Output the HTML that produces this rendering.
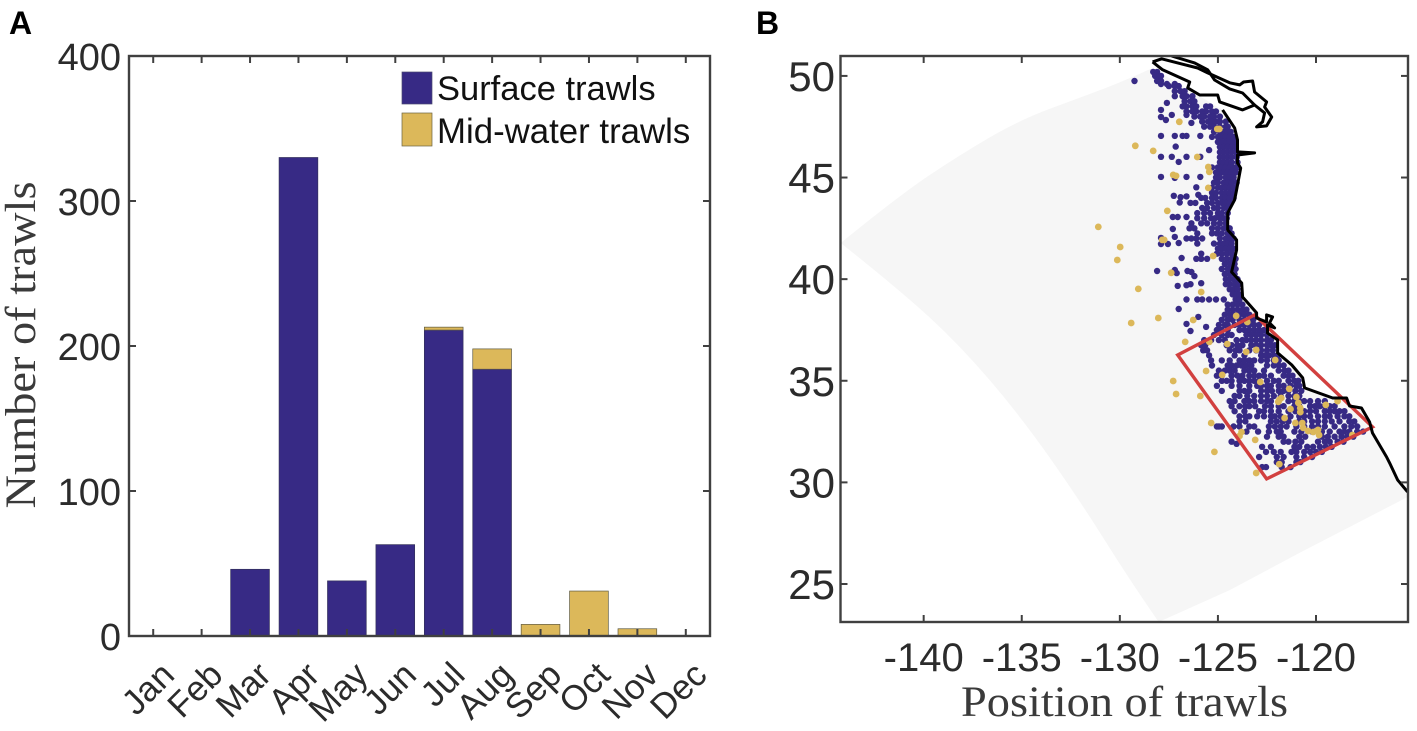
<!DOCTYPE html>
<html lang="en">
<head>
<meta charset="utf-8">
<title>Trawls by month and position</title>
<style>
html,body{margin:0;padding:0;background:#fff;width:1417px;height:731px;overflow:hidden}
svg{display:block}
text{font-family:"Liberation Sans",sans-serif;fill:#2b2b2b}
.serif{font-family:"Liberation Serif",serif;fill:#3a3a3a}
</style>
</head>
<body>
<svg id="fig" xmlns="http://www.w3.org/2000/svg" width="1417" height="731" viewBox="0 0 1417 731">
  <defs><clipPath id="mapClip"><rect x="840.5" y="56" width="567.5" height="566"/></clipPath></defs>
  <text x="9" y="34" font-size="32" font-weight="700" style="fill:#000">A</text>
  <text x="756" y="34" font-size="32" font-weight="700" style="fill:#000">B</text>
  <g id="barsLayer"></g>
  <g id="axisA"></g>
  <text class="serif" transform="translate(35,345) rotate(-90)" text-anchor="middle" font-size="43" textLength="327" lengthAdjust="spacingAndGlyphs">Number of trawls</text>
  <g>
    <rect x="402" y="72" width="30" height="32" fill="#372a85" stroke="#4a4a70" stroke-width="0.7"/>
    <text x="437" y="100" font-size="34.5" style="fill:#111">Surface trawls</text>
    <rect x="402" y="113" width="30" height="33" fill="#dcb85a" stroke="#6b6240" stroke-width="0.7"/>
    <text x="437" y="143" font-size="34.8" style="fill:#111">Mid-water trawls</text>
  </g>
  <g id="mapLayer" clip-path="url(#mapClip)"></g>
  <g id="axisB"></g>
  <text class="serif" x="1124.5" y="716" text-anchor="middle" font-size="43" textLength="327" lengthAdjust="spacingAndGlyphs">Position of trawls</text>
</svg>
<script>
/* ---------- Panel A data ---------- */
const months = ["Jan","Feb","Mar","Apr","May","Jun","Jul","Aug","Sep","Oct","Nov","Dec"];
const surfaceCounts = [0,0,46,330,38,63,211,184,0,0,0,0];
const midwaterCounts = [0,0,0,0,0,0,2,14,8,31,5,0];
const countTicks = [0,100,200,300,400];

/* ---------- Panel B data (longitude / latitude) ---------- */
const lonTicks = [-140,-135,-130,-125,-120];
const latTicks = [25,30,35,40,45,50];
const domainNorth = [[-144.23,41.78],[-141.22,44.14],[-138.17,46.11],[-135.11,47.83],[-132.05,48.92],[-130.01,49.66],[-128.33,50.39]];
const domainBottom = [[-115.33,29.28],[-120.84,26.53],[-124.4,24.7],[-128.02,23.13]];
const domainWest = [[-128.02,23.13],[-129.5,25.2],[-132.05,29.13],[-135.11,33.32],[-138.17,36.76],[-141.22,39.47],[-144.23,41.78]];
const coastline = [[-124.76,48.33],[-124.15,47.44],[-124,46.85],[-124,46.26],[-123.13,46.21],[-124,46.11],[-124,45.72],[-123.84,45.47],[-124.05,44.39],[-124.15,43.9],[-124.5,43.26],[-124.5,42.42],[-124.05,41.93],[-124.05,41.44],[-124.3,40.35],[-123.79,39.81],[-123.74,39.12],[-123.03,38.34],[-123.03,38.09],[-122.52,37.89],[-122.52,38.24],[-122.21,38.14],[-122.37,37.84],[-122.11,37.6],[-122.47,37.75],[-122.47,37.35],[-121.96,37.01],[-121.96,36.37],[-121.24,35.78],[-120.68,35.14],[-120.58,34.65],[-119.15,34.15],[-118.44,34.15],[-118.29,33.76],[-117.68,33.66],[-117.27,32.97],[-117.12,32.43],[-116.4,31.25],[-116.25,30.96],[-115.84,30.12],[-115.33,29.53]];
const islandOutline = [[-128.33,50.69],[-127.87,50.84],[-126.85,50.59],[-126.03,50.39],[-125.52,50.15],[-124.4,49.66],[-123.89,49.56],[-123.69,49.7],[-123.23,49.75],[-123.13,49.21],[-122.52,48.72],[-122.62,48.47],[-122.26,47.98],[-122.52,47.54],[-123.03,47.49],[-122.72,47.74],[-122.62,48.18],[-123.13,48.57],[-123.74,48.33],[-124.91,48.72],[-125.01,49.06],[-125.93,49.06],[-126.54,49.41],[-126.44,49.7],[-127.82,50.3],[-128.33,50.69]];
const straitShore = [[-127.36,50.98],[-126.19,50.64],[-125.52,50.3],[-125.17,49.8],[-124.4,49.36],[-123.74,49.16],[-123.13,48.57]];
const studyBox = [[-127.05,36.27],[-123.13,38.24],[-117.12,32.73],[-122.52,30.17]];

/* Surface trawls: [latitude, [longitudes]] */
const surfaceRows = [
[50.2,[-128.3,-128.1]],[50,[-128.2,-128,-127.9]],[49.75,[-129.25,-128.1,-127.9]],[49.6,[-127.9,-127.6,-127.2]],
[49.5,[-127.5,-127.2,-127]],[49.25,[-127.2,-126.9,-126.7]],[49,[-127.2,-126.8,-126.6,-126.3]],[48.75,[-126.7,-126.4,-126.2]],
[48.5,[-126.8,-126.6,-126.3,-126.1,-125.6,-125.4]],[48.25,[-126.6,-126.3,-126.1,-125.8,-125.6,-125.3,-125.1]],
[48,[-126.2,-125.9,-125.7,-125.4,-125.2,-124.9]],[47.75,[-125.8,-125.5,-125.3,-125.1,-124.9,-124.6]],
[47.5,[-125.7,-125.4,-125.2,-124.9,-124.6,-124.5]],[47.25,[-125.2,-124.9,-124.7,-124.5,-124.35]],
[47,[-125.3,-125,-124.8,-124.6,-124.4,-124.2]],[46.75,[-125,-124.8,-124.6,-124.4,-124.2,-124.1]],
[46.5,[-124.9,-124.7,-124.5,-124.3,-124.1]],[46.25,[-124.9,-124.7,-124.5,-124.3,-124.1]],
[46,[-124.9,-124.7,-124.5,-124.3,-124.05]],[45.75,[-124.9,-124.7,-124.5,-124.3,-124]],
[45.5,[-125.3,-125,-124.8,-124.6,-124.4,-124.2,-124]],[45.25,[-125.1,-124.9,-124.7,-124.5,-124.3,-124.1]],
[45,[-125.1,-124.9,-124.6,-124.4,-124.2]],[44.75,[-125.2,-125,-124.7,-124.5,-124.3,-124.05]],
[44.5,[-125.3,-125,-124.8,-124.6,-124.4,-124.2]],[44.25,[-125.3,-125.1,-124.8,-124.6,-124.4,-124.2]],
[44,[-125.85,-125.65,-125.3,-125.1,-124.8,-124.6,-124.4,-124.2]],[43.75,[-126.4,-126.15,-125.55,-125.3,-125,-124.8,-124.6,-124.4]],
[43.5,[-125.8,-125.55,-125.2,-125,-124.7,-124.5]],[43.25,[-126.05,-125.7,-125.4,-125,-124.8,-124.5]],
[43,[-126.05,-125.7,-125.35,-125.15,-124.9,-124.7,-124.55]],[42.75,[-126.35,-125.85,-125.55,-125.2,-124.9,-124.6]],
[42.5,[-126.45,-126.2,-125.3,-125,-124.7,-124.4]],[42.25,[-126.05,-125.3,-125.05,-124.8,-124.5,-124.3]],
[42,[-126.6,-126.35,-126.1,-125.8,-124.9,-124.6,-124.4,-124.2]],[41.75,[-126.05,-125.2,-124.9,-124.7,-124.5,-124.3]],
[41.5,[-125,-124.8,-124.6,-124.4,-124.2]],[41.25,[-125.85,-125.05,-124.8,-124.55,-124.3]],
[41,[-126.1,-125.85,-125.55,-124.8,-124.55,-124.3,-124.1]],[40.75,[-124.65,-124.4,-124.15]],
[40.5,[-124.8,-124.5,-124.25,-124.1]],[40.25,[-124.65,-124.4,-124.15]],[40,[-124.6,-124.4,-124.2,-124]],
[39.75,[-124.6,-124.4,-124.15,-123.95]],[39.5,[-124.4,-124.2,-124]],[39.25,[-124.25,-124.05,-123.9]],
[39,[-126.6,-126.05,-125.8,-125.45,-125.1,-124.7,-124.1,-123.9]],[38.75,[-124.5,-124.25,-124,-123.75]],
[38.5,[-124.5,-124.25,-124,-123.75,-123.55]],[38.25,[-124.65,-124.4,-124.2,-123.9,-123.65,-123.4]],
[38,[-124.8,-124.5,-124.25,-123.9,-123.65,-123.4,-123.2]],[37.75,[-124.95,-124.65,-124.5,-124.15,-123.9,-123.65,-123.4,-123.15,-122.9]],
[37.5,[-125.05,-124.8,-124.5,-123.9,-123.65,-123.4,-123.15,-122.9,-122.65]],[37.25,[-125.2,-124.8,-124.5,-124.3,-123.55,-123.3,-123.05,-122.8,-122.5]],
[37,[-125.7,-125.35,-124.95,-124.65,-124.05,-123.75,-123.55,-123.3,-123.05,-122.8,-122.5,-122.3]],
[36.75,[-125.85,-125.65,-124.55,-124.3,-124,-123.75,-123.3,-123.05,-122.8,-122.5,-122.3,-122.1]],
[36.5,[-125.75,-125.55,-124.4,-124.1,-123.9,-123.4,-123.05,-122.8,-122.5,-122.2]],
[36.25,[-125.45,-124.15,-123.65,-122.8,-122.6,-122.4,-122.15,-121.95]],
[36,[-125.35,-124.8,-124.4,-123.9,-123.65,-123.4,-123.15,-122.8,-122.5,-122.15,-121.9]],
[35.75,[-125.3,-124.5,-124.3,-124.05,-123.8,-123.55,-123.3,-122.5,-122.15,-121.9,-121.65]],
[35.5,[-124.95,-124.65,-124.4,-124.15,-123.65,-123.4,-123.15,-122.65,-121.9,-121.6,-121.4]],
[35.25,[-125.05,-124.8,-124.3,-124,-123.75,-123.4,-123.15,-122.9,-122.65,-122.3,-121.65,-121.4,-121.2]],
[35,[-124.8,-124.55,-124.3,-123.9,-123.65,-123.4,-123.15,-122.9,-122.5,-122.15,-121.9,-121.4,-121.1,-120.9]],
[34.75,[-125.05,-124.3,-123.9,-123.4,-123,-122.8,-122.5,-122.3,-121.9,-121.65,-121.3,-121,-120.85]],
[34.5,[-124.8,-123.9,-123.65,-123.4,-122.8,-122.5,-122.25,-121.9,-121.65,-121.4,-121.05,-120.75]],
[34.25,[-124.15,-123.9,-123.5,-123.15,-122.8,-122.5,-122.15,-121.8,-121.4,-121.1,-120.85]],
[34,[-124.4,-124.15,-123.65,-123.4,-123.15,-122.8,-122.5,-122.3,-121.9,-121.4,-121.1,-120.85,-120.6,-120.3,-119.9,-119.55]],
[33.75,[-124.3,-123.9,-123.6,-123.4,-123.1,-122.6,-122.3,-121.9,-121.65,-121.1,-120.85,-120.3,-120.05,-119.8,-119.55,-119.3,-119.05]],
[33.5,[-124.15,-123.65,-122.9,-122.65,-122.3,-121.9,-121.4,-121.05,-120.6,-120.3,-120,-119.55,-119.3,-119.05,-118.8,-118.55]],
[33.25,[-123.9,-123.6,-123.4,-123,-122.65,-122.3,-122.1,-121.8,-121.3,-120.85,-120.6,-120.3,-119.9,-119.55,-119.3,-118.9,-118.55,-118.3]],
[33,[-123.9,-123.6,-122.3,-122,-121.7,-121.4,-120.85,-120.6,-120.2,-119.9,-119.55,-119.2,-118.8,-118.3,-118.05]],
[32.75,[-125.05,-124.95,-124.8,-124.2,-123.9,-123.4,-123.15,-122.4,-122.1,-121.8,-121.5,-121,-120.6,-120.2,-119.9,-119.55,-119.05,-118.55,-118.2,-117.9]],
[32.5,[-123.55,-122.95,-122.4,-122,-121.8,-121.1,-120.75,-120.2,-119.7,-119.3,-118.8,-118.55,-118.3,-117.9,-117.6]],
[32.25,[-122.5,-121.9,-121.65,-120.85,-120.55,-119.7,-119.4,-119.05,-118.7,-118.4,-118.1]],
[32,[-124.3,-121.65,-121.4,-121.05,-120.75,-119.9,-119.55,-119.3,-118.9,-118.6]],[31.9,[-124.05]],
[31.75,[-122.75,-122.3,-121.1,-120.85,-120.45,-120.15,-119.8,-119.5,-119.2]],
[31.5,[-122.55,-122.15,-121.8,-121.25,-121,-120.6,-120.3,-120,-119.7]],
[31.25,[-122.9,-122,-121.65,-121,-120.6,-120.2]],[31,[-122,-121.75,-121,-120.8]],[30.75,[-122.75,-122.55,-121.75,-121.3]],
[48.67,[-127.6]],[48.33,[-127.9]],[47.98,[-127.9]],[47.83,[-127.65]],[48.08,[-127.35,-126.6]],[47.69,[-126.35]],
[47.05,[-127.9,-127.2,-126.8,-126.6,-125.9]],[46.52,[-127.15]],[46.02,[-127.9,-127.35,-126.6,-125.9]],[45.77,[-127]],
[46.35,[-125.45]],[45.03,[-127.9,-126.6,-125.9]],[44.98,[-127.2]],[44.1,[-127.25]],[44.03,[-126.9]],[44.07,[-126.6]],
[43.77,[-126.95]],[44.52,[-126.1]],[44.15,[-126]],[43.06,[-127.3,-127.05,-126.6]],[42.47,[-127.3]],[42.08,[-127.2]],
[42.03,[-127.9]],[41.73,[-127.9,-127.55]],[41.78,[-127]],[41.04,[-126.85]],[40.4,[-128.1,-126.55]],[40.45,[-127.2]],
[40.3,[-127.1]],[40.35,[-126.35]],[40.15,[-126.2]],[39.67,[-127.05]],[39.7,[-126.6]],[39.75,[-126.4]],[39.8,[-125.85]],
[38.53,[-127]],[38.14,[-126]],[37.8,[-126.6]],[37.45,[-126.4]],[37.65,[-125.6]]
];

/* Mid-water trawls: [longitude, latitude] */
const midwaterPoints = [
[-131.1,42.57],[-129.98,41.58],[-130.13,40.94],[-129.06,39.52],[-129.42,37.84],[-128.04,38.09],[-127.58,43.36],[-127.84,41.93],[-127.74,41.93],[-127.38,40.31],
[-125.24,41.14],[-125.85,39.37],[-126.26,37.99],[-126.67,36.91],[-124.07,38.19],[-126.97,47.74],[-125.03,47.39],[-124.93,47.39],[-129.21,46.56],[-128.3,46.31],
[-126.05,46.01],[-125.49,45.52],[-125.44,45.28],[-127.28,45.13],[-127.13,45.08],[-125.49,44.49],[-127.28,34.99],[-127.13,34.35],[-125.34,32.92],[-125.18,31.5],
[-125.9,34.25],[-125.6,35.48],[-123.5,37.89],[-125.44,36.91],[-124.52,36.81],[-123.56,36.42],[-123.05,36.52],[-124.78,35.29],[-122.84,34.94],[-122.08,36.02],
[-121.36,34.6],[-121.87,34.06],[-121.77,34.15],[-121.92,33.96],[-121,34.2],[-121.3,33.61],[-120.9,33.91],[-120.8,33.66],[-120.8,33.46],[-121.6,33.17],
[-121.05,32.92],[-120.7,32.92],[-120.65,32.68],[-120.4,32.53],[-120.14,32.48],[-119.9,32.58],[-119.84,32.33],[-119.5,33.81],[-118.9,34],[-123.8,32.48],
[-123.9,32.28],[-123.1,32.09],[-121.87,30.9],[-123.05,30.46],[-118.15,32.33]
];

const NS = "http://www.w3.org/2000/svg";
const AXIS_COLOR = "#404040";
function mk(tag, parent){ const el = document.createElementNS(NS, tag); parent.appendChild(el); return el; }

/* Panel A scales */
const A = {left:129, right:710, top:56, bottom:636};
const monthX = i => A.left + (i + 0.5) * (A.right - A.left) / months.length;
const countY = v => A.bottom - v * (A.bottom - A.top) / 400;
const barW = 0.8 * (A.right - A.left) / months.length;

const barsLayer = document.getElementById("barsLayer");
months.forEach((m, i) => {
  const s = surfaceCounts[i], w = midwaterCounts[i];
  if (s > 0) {
    const r = mk("rect", barsLayer);
    
    
    r.setAttribute("x", monthX(i) - barW / 2); r.setAttribute("width", barW);
    r.setAttribute("y", countY(s)); r.setAttribute("height", countY(0) - countY(s));
    r.setAttribute("fill", "#372a85"); r.setAttribute("stroke", "#33305a"); r.setAttribute("stroke-width", "0.7");
  }
  if (w > 0) {
    const r = mk("rect", barsLayer);
    
    
    r.setAttribute("x", monthX(i) - barW / 2); r.setAttribute("width", barW);
    r.setAttribute("y", countY(s + w)); r.setAttribute("height", countY(s) - countY(s + w));
    r.setAttribute("fill", "#dcb85a"); r.setAttribute("stroke", "#5f5a40"); r.setAttribute("stroke-width", "0.7");
  }
});

function frame(group, b, name){
  const r = mk("rect", group);
  
  
  r.setAttribute("x", b.left); r.setAttribute("y", b.top);
  r.setAttribute("width", b.right - b.left); r.setAttribute("height", b.bottom - b.top);
  r.setAttribute("fill", "none"); r.setAttribute("stroke", AXIS_COLOR); r.setAttribute("stroke-width", "2.4");
}
function tick(group, x1, y1, x2, y2){
  const l = mk("line", group);
  
  
  l.setAttribute("x1", x1); l.setAttribute("y1", y1); l.setAttribute("x2", x2); l.setAttribute("y2", y2);
  l.setAttribute("stroke", AXIS_COLOR); l.setAttribute("stroke-width", "2");
}
const TL = 7;

const axisA = document.getElementById("axisA");
frame(axisA, A, "panel-a-frame");
months.forEach((m, i) => {
  const x = monthX(i);
  tick(axisA, x, A.bottom, x, A.bottom - TL);
  tick(axisA, x, A.top, x, A.top + TL);
  const t = mk("text", axisA);
  
  
  t.setAttribute("text-anchor", "end"); t.setAttribute("font-size", "35");
  t.setAttribute("transform", "translate(" + (x + 23) + ",677) rotate(-45)");
  t.textContent = m;
});
countTicks.forEach(v => {
  const y = countY(v);
  tick(axisA, A.left, y, A.left + TL, y);
  tick(axisA, A.right, y, A.right - TL, y);
  const t = mk("text", axisA);
  
  
  t.setAttribute("text-anchor", "end"); t.setAttribute("font-size", "38");
  t.setAttribute("x", 121); t.setAttribute("y", y + 14);
  t.textContent = v;
});

/* Panel B scales */
const B = {left:840.5, right:1408, top:56, bottom:622};
const lonMin = -144.24, lonMax = -115.31, latMin = 23.13, latMax = 50.98;
const lonX = lon => B.left + (lon - lonMin) * (B.right - B.left) / (lonMax - lonMin);
const latY = lat => B.bottom - (lat - latMin) * (B.bottom - B.top) / (latMax - latMin);
const pts = arr => arr.map(p => lonX(p[0]).toFixed(1) + "," + latY(p[1]).toFixed(1)).join(" ");
const xy = p => lonX(p[0]).toFixed(1) + " " + latY(p[1]).toFixed(1);
function smoothSegment(arr){
  let d = "";
  for (let i = 1; i < arr.length - 1; i++) {
    const next = i === arr.length - 2 ? arr[i + 1] : [(arr[i][0] + arr[i + 1][0]) / 2, (arr[i][1] + arr[i + 1][1]) / 2];
    d += " Q" + xy(arr[i]) + " " + xy(next);
  }
  return d;
}
function straightSegment(arr){
  return arr.map(p => " L" + xy(p)).join("");
}

const mapLayer = document.getElementById("mapLayer");
const domain = mk("path", mapLayer);


domain.setAttribute("d", "M" + xy(domainNorth[0]) + smoothSegment(domainNorth) + straightSegment(coastline) + straightSegment(domainBottom) + smoothSegment(domainWest) + " Z");
domain.setAttribute("fill", "#f6f6f6");

surfaceRows.forEach(row => {
  row[1].forEach(lon => {
    const c = mk("circle", mapLayer);
    
    
    c.setAttribute("cx", lonX(lon).toFixed(1)); c.setAttribute("cy", latY(row[0]).toFixed(1));
    c.setAttribute("r", "3.2"); c.setAttribute("fill", "#372a85");
  });
});
midwaterPoints.forEach(p => {
  const c = mk("circle", mapLayer);
  
  
  c.setAttribute("cx", lonX(p[0]).toFixed(1)); c.setAttribute("cy", latY(p[1]).toFixed(1));
  c.setAttribute("r", "3.4"); c.setAttribute("fill", "#dcb85a");
});

const box = mk("polygon", mapLayer);


box.setAttribute("points", pts(studyBox));
box.setAttribute("fill", "none"); box.setAttribute("stroke", "#d2403f"); box.setAttribute("stroke-width", "3.4");

const coastLine = mk("polyline", mapLayer);


coastLine.setAttribute("points", pts(coastline));
const islandLine = mk("polyline", mapLayer);


islandLine.setAttribute("points", pts(islandOutline));
const straitLine = mk("polyline", mapLayer);


straitLine.setAttribute("points", pts(straitShore));
[coastLine, islandLine, straitLine].forEach(l => {
  l.setAttribute("fill", "none"); l.setAttribute("stroke", "#000"); l.setAttribute("stroke-width", "3"); l.setAttribute("stroke-linejoin", "round");
});

const axisB = document.getElementById("axisB");
frame(axisB, B, "panel-b-frame");
lonTicks.forEach(v => {
  const x = lonX(v);
  tick(axisB, x, B.bottom, x, B.bottom - TL);
  tick(axisB, x, B.top, x, B.top + TL);
  const t = mk("text", axisB);
  
  
  t.setAttribute("text-anchor", "middle"); t.setAttribute("font-size", "40");
  t.setAttribute("x", x); t.setAttribute("y", 671);
  t.textContent = v;
});
latTicks.forEach(v => {
  const y = latY(v);
  tick(axisB, B.left, y, B.left + TL, y);
  tick(axisB, B.right, y, B.right - TL, y);
  const t = mk("text", axisB);
  
  
  t.setAttribute("text-anchor", "end"); t.setAttribute("font-size", "42");
  t.setAttribute("x", 835); t.setAttribute("y", y + 15);
  t.textContent = v;
});
</script>
</body>
</html>
